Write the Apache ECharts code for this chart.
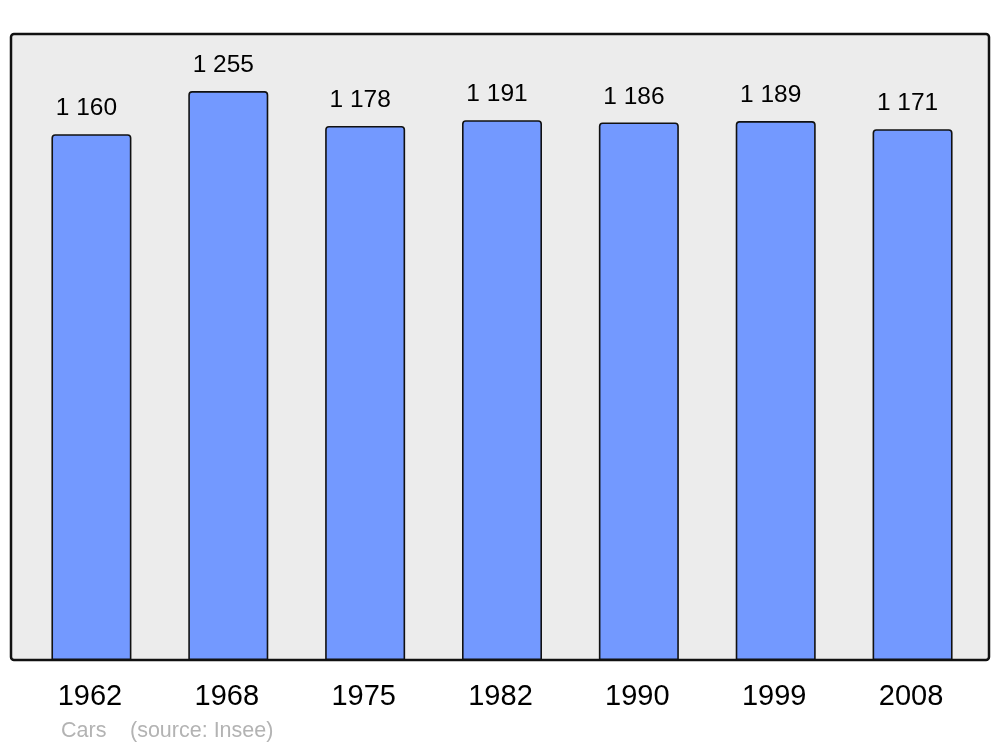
<!DOCTYPE html>
<html>
<head>
<meta charset="utf-8">
<script src="https://cdn.jsdelivr.net/npm/echarts@6/dist/echarts.min.js"></script>
<style>html,body{margin:0;padding:0;background:#fff;}#c{width:1000px;height:747px;}</style>
</head>
<body>
<div id="c"></div>
<script>
const years = ['1962', '1968', '1975', '1982', '1990', '1999', '2008'];
const values = [1160, 1255, 1178, 1191, 1186, 1189, 1171];
const footerLabel = 'Cars';
const footerSource = '(source: Insee)';

function fmt(v) {
  return String(v).replace(/\B(?=(\d{3})+(?!\d))/g, ' ');
}

const chart = echarts.init(document.getElementById('c'), null, {renderer: 'canvas'});
chart.setOption({
  animation: false,
  textStyle: {fontFamily: 'Liberation Sans, Arial, sans-serif'},
  graphic: [
    {type: 'rect', z: -10, shape: {x: 11, y: 34, width: 978, height: 626, r: 3},
     style: {fill: '#ececec', stroke: '#111111', lineWidth: 2.5}},
    {type: 'text', left: 61, top: 720, style: {text: footerLabel, fill: '#b3b3b3', font: '21.5px Liberation Sans, Arial, sans-serif'}},
    {type: 'text', left: 130, top: 720, style: {text: footerSource, fill: '#b3b3b3', font: '21.5px Liberation Sans, Arial, sans-serif'}}
  ],
  grid: {left: 23, right: 19, top: 34, bottom: 87},
  xAxis: {
    type: 'category', data: years,
    axisLine: {show: false}, axisTick: {show: false},
    axisLabel: {fontSize: 29, color: '#000', margin: 22, padding: [0, 3, 0, 0], fontFamily: 'Liberation Sans, Arial, sans-serif'}
  },
  yAxis: {type: 'value', min: 0, max: 1381, show: false, splitLine: {show: false}},
  series: [{
    type: 'bar', data: values, barWidth: 80,
    itemStyle: {color: '#7399ff', borderColor: '#111111', borderWidth: 1.6, borderRadius: [3, 3, 0, 0]},
    label: {show: true, position: 'top', distance: 13, offset: [-5, 0], fontSize: 24.5, color: '#000',
      fontFamily: 'Liberation Sans, Arial, sans-serif', formatter: p => fmt(p.value)}
  }]
});
</script>
</body>
</html>
